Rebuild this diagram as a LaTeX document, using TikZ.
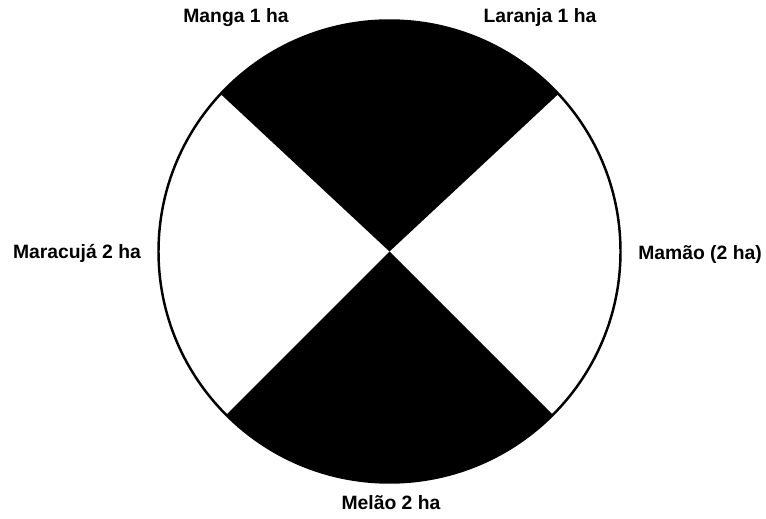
\documentclass[tikz,border=0pt]{standalone}
\usepackage{fontspec}
\setmainfont{Liberation Sans}
\usetikzlibrary{positioning}

\begin{document}
\begin{tikzpicture}[x=0.02cm, y=-0.02cm, every node/.style={font=\fontsize{11}{13}\selectfont\bfseries}]
\tikzstyle{lbl}=[inner sep=0pt, anchor=center]
\tikzstyle{sector}=[fill=black, draw=none]
\useasboundingbox (0,0) rectangle (766,519);
\coordinate (c) at (389.5,251.5);
% black sectors (y axis points down)
\fill[sector] (c) -- ++(-43:231) arc[start angle=-43, end angle=-137, radius=231] -- cycle;
\fill[sector] (c) -- ++(135:231) arc[start angle=135, end angle=45, radius=231] -- cycle;
\draw[line width=1.4pt] (c) circle[radius=231];
% labels
\node[lbl] (manga) at (236,18) {Manga 1 ha};
\node[lbl] (laranja) at (540,18) {Laranja 1 ha};
\node[lbl] (maracuja) at (77,253) {Maracujá 2 ha};
\node[lbl] (mamao) at (700,255) {Mamão (2 ha)};
\node[lbl] (melao) at (391,503) {Melão 2 ha};
\end{tikzpicture}
\end{document}
